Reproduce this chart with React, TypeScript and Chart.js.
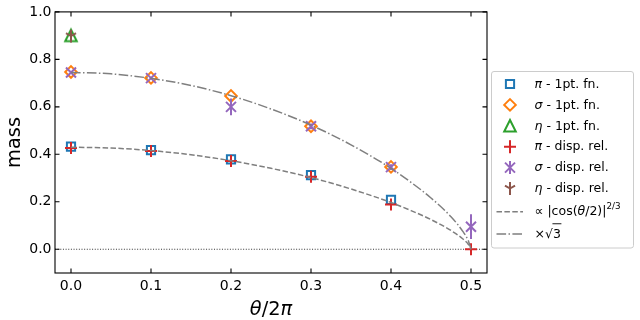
import React, { useEffect, useRef } from "react";
import { Chart, registerables } from "chart.js";

Chart.register(...registerables);

// ---------- data ----------
const X_TICKS = [0, 0.1, 0.2, 0.3, 0.4, 0.5];
const Y_TICKS = [0, 0.2, 0.4, 0.6, 0.8, 1.0];
const X_MIN = -0.02;
const X_MAX = 0.52;
const Y_MIN = -0.1;
const Y_MAX = 1.0;

const PI_1PT_X = [0, 0.1, 0.2, 0.3, 0.4];
const PI_1PT_Y = [0.432, 0.418, 0.379, 0.312, 0.208];
const SIGMA_1PT_X = [0, 0.1, 0.2, 0.3, 0.4];
const SIGMA_1PT_Y = [0.747, 0.722, 0.646, 0.518, 0.347];
const ETA_1PT_X = [0];
const ETA_1PT_Y = [0.901];

const PI_DISP_X = [0, 0.1, 0.2, 0.3, 0.4, 0.5];
const PI_DISP_Y = [0.427, 0.414, 0.372, 0.305, 0.189, 0.0];
const PI_DISP_ERR = [0.004, 0.004, 0.005, 0.006, 0.008, 0.01];
const SIGMA_DISP_X = [0, 0.1, 0.2, 0.3, 0.4, 0.5];
const SIGMA_DISP_Y = [0.745, 0.721, 0.6, 0.518, 0.346, 0.095];
const SIGMA_DISP_ERR = [0.006, 0.006, 0.035, 0.012, 0.012, 0.052];
const ETA_DISP_X = [0];
const ETA_DISP_Y = [0.898];
const ETA_DISP_ERR = [0.027];

const CURVE_X = [0, 0.05, 0.1, 0.15, 0.2, 0.25, 0.3, 0.35, 0.4, 0.425, 0.45, 0.475, 0.49, 0.497, 0.5];
const FIT_Y = [0.43, 0.4265, 0.416, 0.398, 0.373, 0.341, 0.302, 0.254, 0.197, 0.163, 0.125, 0.079, 0.043, 0.019, 0];
const SQRT3_Y = [0.745, 0.739, 0.72, 0.69, 0.647, 0.591, 0.523, 0.44, 0.341, 0.282, 0.216, 0.137, 0.074, 0.033, 0];

type Seg = { t: string; i?: boolean; sup?: boolean; over?: boolean };
const LEGEND_LABELS: Seg[][] = [
  [{ t: "π", i: true }, { t: " - 1pt. fn." }],
  [{ t: "σ", i: true }, { t: " - 1pt. fn." }],
  [{ t: "η", i: true }, { t: " - 1pt. fn." }],
  [{ t: "π", i: true }, { t: " - disp. rel." }],
  [{ t: "σ", i: true }, { t: " - disp. rel." }],
  [{ t: "η", i: true }, { t: " - disp. rel." }],
  [{ t: "∝ |cos(" }, { t: "θ", i: true }, { t: "/2)|" }, { t: "2/3", sup: true }],
  [{ t: "×" }, { t: "√" }, { t: "3", over: true }],
];
const X_TITLE: Seg[] = [{ t: "θ", i: true }, { t: "/2" }, { t: "π", i: true }];
const Y_TITLE = "mass";

// ---------- styles ----------
const FONT = '"DejaVu Sans", sans-serif';
const BLUE = "#1f77b4";
const ORANGE = "#ff7f0e";
const GREEN = "#2ca02c";
const RED = "#d62728";
const PURPLE = "#9467bd";
const BROWN = "#8c564b";
const GRAY = "#7f7f7f";
const DASH = [5.5, 2.4];
const DASHDOT = [9.6, 2.4, 1.5, 2.4];

function drawShape(g: CanvasRenderingContext2D, kind: string, x: number, y: number, color: string) {
  g.save();
  g.strokeStyle = color;
  g.lineWidth = 2;
  g.lineJoin = "miter";
  g.setLineDash([]);
  g.beginPath();
  if (kind === "square") {
    const h = 4.1;
    g.rect(x - h, y - h, 2 * h, 2 * h);
  } else if (kind === "diamond") {
    const r = 5.8;
    g.moveTo(x, y - r); g.lineTo(x + r, y); g.lineTo(x, y + r); g.lineTo(x - r, y); g.closePath();
  } else if (kind === "triangle") {
    const r = 5.8;
    g.moveTo(x, y - r); g.lineTo(x + r, y + r); g.lineTo(x - r, y + r); g.closePath();
  } else if (kind === "plus") {
    const r = 6;
    g.moveTo(x - r, y); g.lineTo(x + r, y); g.moveTo(x, y - r); g.lineTo(x, y + r);
  } else if (kind === "x") {
    const r = 5;
    g.moveTo(x - r, y - r); g.lineTo(x + r, y + r); g.moveTo(x - r, y + r); g.lineTo(x + r, y - r);
  } else if (kind === "tri_down") {
    const r = 5.8;
    g.moveTo(x, y); g.lineTo(x, y + r);
    g.moveTo(x, y); g.lineTo(x - r * 0.866, y - r * 0.5);
    g.moveTo(x, y); g.lineTo(x + r * 0.866, y - r * 0.5);
  }
  g.stroke();
  g.restore();
}

function markerImage(kind: string, color: string): HTMLCanvasElement {
  const c = document.createElement("canvas");
  c.width = 24;
  c.height = 24;
  const g = c.getContext("2d")!;
  drawShape(g, kind, 12, 12, color);
  return c;
}

function segFont(s: Seg, size: number) {
  const fs = s.sup ? size * 0.7 : size;
  return `${s.i ? "italic " : ""}${fs}px ${FONT}`;
}

function richWidth(g: CanvasRenderingContext2D, segs: Seg[], size: number) {
  let w = 0;
  for (const s of segs) {
    g.font = segFont(s, size);
    w += g.measureText(s.t).width;
  }
  return w;
}

function drawRich(g: CanvasRenderingContext2D, segs: Seg[], x: number, y: number, size: number) {
  let cx = x;
  for (const s of segs) {
    g.font = segFont(s, size);
    const dy = s.sup ? -size * 0.42 : 0;
    g.fillText(s.t, cx, y + dy);
    const w = g.measureText(s.t).width;
    if (s.over) {
      g.save();
      g.strokeStyle = "#000";
      g.lineWidth = 0.9;
      g.beginPath();
      g.moveTo(cx - 0.5, y - size * 0.86);
      g.lineTo(cx + w + 0.5, y - size * 0.86);
      g.stroke();
      g.restore();
    }
    cx += w;
  }
}

const pts = (xs: number[], ys: number[]) => xs.map((x, i) => ({ x, y: ys[i] }));

const LEGEND_HANDLES = [
  { kind: "square", color: BLUE },
  { kind: "diamond", color: ORANGE },
  { kind: "triangle", color: GREEN },
  { kind: "plus", color: RED, err: true },
  { kind: "x", color: PURPLE, err: true },
  { kind: "tri_down", color: BROWN, err: true },
  { kind: "line", color: GRAY, dash: DASH },
  { kind: "line", color: GRAY, dash: DASHDOT },
];

const customPlugin = {
  id: "customDeco",
  beforeDatasetsDraw(chart: any) {
    const { ctx, chartArea, scales } = chart;
    const y0 = scales.y.getPixelForValue(0);
    ctx.save();
    ctx.strokeStyle = "#333";
    ctx.lineWidth = 1;
    ctx.setLineDash([1, 1.65]);
    ctx.beginPath();
    ctx.moveTo(chartArea.left, y0);
    ctx.lineTo(chartArea.right, y0);
    ctx.stroke();
    ctx.restore();
  },
  beforeDatasetDraw(chart: any, args: any) {
    const ds = chart.data.datasets[args.index];
    if (!ds.errs) return;
    const { ctx, scales } = chart;
    ctx.save();
    ctx.strokeStyle = ds.errColor;
    ctx.lineWidth = 2;
    ctx.setLineDash([]);
    ds.data.forEach((p: any, i: number) => {
      const e = ds.errs[i];
      const x = scales.x.getPixelForValue(p.x);
      ctx.beginPath();
      ctx.moveTo(x, scales.y.getPixelForValue(p.y - e));
      ctx.lineTo(x, scales.y.getPixelForValue(p.y + e));
      ctx.stroke();
    });
    ctx.restore();
  },
  afterDraw(chart: any) {
    const { ctx, chartArea: a, scales } = chart;
    ctx.save();
    // frame
    ctx.strokeStyle = "#000";
    ctx.lineWidth = 1.1;
    ctx.setLineDash([]);
    ctx.strokeRect(a.left, a.top, a.right - a.left, a.bottom - a.top);
    // inward ticks
    const tl = 4.5;
    ctx.beginPath();
    for (const v of X_TICKS) {
      const x = scales.x.getPixelForValue(v);
      ctx.moveTo(x, a.bottom); ctx.lineTo(x, a.bottom - tl);
      ctx.moveTo(x, a.top); ctx.lineTo(x, a.top + tl);
    }
    for (const v of Y_TICKS) {
      const y = scales.y.getPixelForValue(v);
      ctx.moveTo(a.left, y); ctx.lineTo(a.left + tl, y);
      ctx.moveTo(a.right, y); ctx.lineTo(a.right - tl, y);
    }
    ctx.stroke();

    // axis titles
    ctx.fillStyle = "#000";
    ctx.textBaseline = "alphabetic";
    const tsize = 19.4;
    const xw = richWidth(ctx, X_TITLE, tsize);
    drawRich(ctx, X_TITLE, (a.left + a.right) / 2 - xw / 2, 314.5, tsize);
    ctx.save();
    ctx.translate(19.5, (a.top + a.bottom) / 2);
    ctx.rotate(-Math.PI / 2);
    ctx.font = `${tsize}px ${FONT}`;
    ctx.textAlign = "center";
    ctx.fillText(Y_TITLE, 0, 0);
    ctx.restore();

    // legend
    const bx = 491.5, by = 71.5, bw = 142, bh = 176.5, rr = 2.5;
    ctx.beginPath();
    ctx.moveTo(bx + rr, by);
    ctx.arcTo(bx + bw, by, bx + bw, by + bh, rr);
    ctx.arcTo(bx + bw, by + bh, bx, by + bh, rr);
    ctx.arcTo(bx, by + bh, bx, by, rr);
    ctx.arcTo(bx, by, bx + bw, by, rr);
    ctx.closePath();
    ctx.fillStyle = "rgba(255,255,255,0.8)";
    ctx.fill();
    ctx.strokeStyle = "#cccccc";
    ctx.lineWidth = 1;
    ctx.stroke();

    const rows = [84, 104.9, 125.8, 146.7, 167.6, 188.5, 211.7, 234];
    const hx0 = 496.5, hx1 = 523, hc = 510;
    const lsize = 12.5;
    LEGEND_HANDLES.forEach((h: any, i: number) => {
      const y = rows[i];
      if (h.kind === "line") {
        ctx.save();
        ctx.strokeStyle = h.color;
        ctx.lineWidth = 1.5;
        ctx.setLineDash(h.dash);
        ctx.beginPath();
        ctx.moveTo(hx0, y);
        ctx.lineTo(hx1, y);
        ctx.stroke();
        ctx.restore();
      } else {
        if (h.err) {
          ctx.save();
          ctx.strokeStyle = h.color;
          ctx.lineWidth = 2;
          ctx.setLineDash([]);
          ctx.beginPath();
          ctx.moveTo(hc, y - 6.5);
          ctx.lineTo(hc, y + 6.5);
          ctx.stroke();
          ctx.restore();
        }
        drawShape(ctx, h.kind, hc, y, h.color);
      }
      ctx.fillStyle = "#000";
      ctx.textBaseline = "middle";
      drawRich(ctx, LEGEND_LABELS[i], 534.5, y + 0.5, lsize);
    });
    ctx.restore();
  },
};

export default function App() {
  const ref = useRef<HTMLCanvasElement>(null);
  useEffect(() => {
    const triImg = markerImage("triangle", GREEN);
    const triDownImg = markerImage("tri_down", BROWN);
    const chart = new Chart(ref.current!, {
      type: "scatter",
      data: {
        datasets: [
          { label: "π - 1pt. fn.", data: pts(PI_1PT_X, PI_1PT_Y), pointStyle: "rect", pointRadius: 5.8, borderColor: BLUE, backgroundColor: "transparent", borderWidth: 2, order: 5 },
          { label: "σ - 1pt. fn.", data: pts(SIGMA_1PT_X, SIGMA_1PT_Y), pointStyle: "rectRot", pointRadius: 5.8, borderColor: ORANGE, backgroundColor: "transparent", borderWidth: 2, order: 5 },
          { label: "η - 1pt. fn.", data: pts(ETA_1PT_X, ETA_1PT_Y), pointStyle: triImg, pointRadius: 6, borderColor: GREEN, backgroundColor: "transparent", order: 5 },
          { label: "π - disp. rel.", data: pts(PI_DISP_X, PI_DISP_Y), pointStyle: "cross", pointRadius: 6, borderColor: RED, backgroundColor: "transparent", borderWidth: 2, order: 4, errs: PI_DISP_ERR, errColor: RED },
          { label: "σ - disp. rel.", data: pts(SIGMA_DISP_X, SIGMA_DISP_Y), pointStyle: "crossRot", pointRadius: 7.07, borderColor: PURPLE, backgroundColor: "transparent", borderWidth: 2, order: 4, errs: SIGMA_DISP_ERR, errColor: PURPLE },
          { label: "η - disp. rel.", data: pts(ETA_DISP_X, ETA_DISP_Y), pointStyle: triDownImg, pointRadius: 6, borderColor: BROWN, backgroundColor: "transparent", order: 4, errs: ETA_DISP_ERR, errColor: BROWN },
          { label: "fit", data: pts(CURVE_X, FIT_Y), showLine: true, pointRadius: 0, borderColor: GRAY, borderWidth: 1.5, borderDash: DASH, cubicInterpolationMode: "monotone", fill: false, order: 1 },
          { label: "sqrt3", data: pts(CURVE_X, SQRT3_Y), showLine: true, pointRadius: 0, borderColor: GRAY, borderWidth: 1.5, borderDash: DASHDOT, cubicInterpolationMode: "monotone", fill: false, order: 1 },
        ] as any,
      },
      options: {
        responsive: false,
        animation: false,
        devicePixelRatio: 1,
        events: [],
        layout: { padding: { left: 0, right: 153, top: 9, bottom: 0 } },
        plugins: { legend: { display: false }, tooltip: { enabled: false } },
        scales: {
          x: {
            type: "linear",
            min: X_MIN,
            max: X_MAX,
            afterBuildTicks: (s: any) => { s.ticks = X_TICKS.map((v) => ({ value: v })); },
            afterFit: (s: any) => { s.height = 47; },
            grid: { display: false, drawTicks: false },
            border: { display: false },
            ticks: { font: { family: FONT, size: 14 }, color: "#000", padding: 5, maxRotation: 0, autoSkip: false, callback: (v: any) => Number(v).toFixed(1) },
          },
          y: {
            type: "linear",
            min: Y_MIN,
            max: Y_MAX,
            afterBuildTicks: (s: any) => { s.ticks = Y_TICKS.map((v) => ({ value: v })); },
            afterFit: (s: any) => { s.width = 55; },
            grid: { display: false, drawTicks: false },
            border: { display: false },
            ticks: { font: { family: FONT, size: 14 }, color: "#000", padding: 3.5, autoSkip: false, callback: (v: any) => Number(v).toFixed(1) },
          },
        },
      } as any,
      plugins: [customPlugin],
    });
    return () => chart.destroy();
  }, []);
  return (
    <div style={{ position: "absolute", left: 0, top: 0, width: 640, height: 320, background: "#fff" }}>
      <canvas ref={ref} width={640} height={320} style={{ display: "block" }} />
    </div>
  );
}
